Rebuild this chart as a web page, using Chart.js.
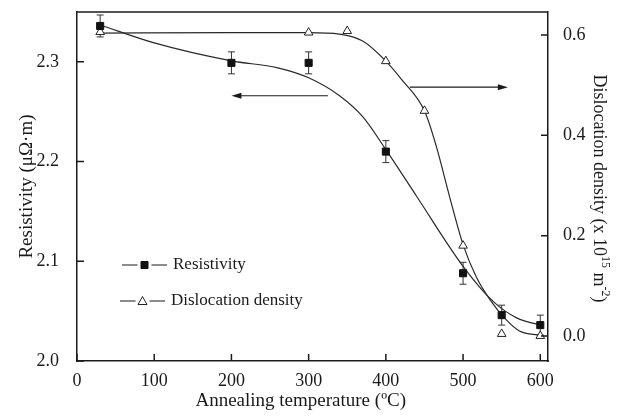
<!DOCTYPE html>
<html>
<head>
<meta charset="utf-8">
<script src="https://cdn.jsdelivr.net/npm/chart.js@4.4.1/dist/chart.umd.min.js"></script>
<style>
  html, body { margin: 0; padding: 0; background: #fff; }
  #wrap { width: 622px; height: 416px; }
</style>
</head>
<body>
<div id="wrap"><canvas id="myChart" width="622" height="416"></canvas></div>
<script>
// measured points
var resTemps = [30, 200, 300, 400, 500, 550, 600];
var resistivity = [2.336, 2.299, 2.299, 2.210, 2.088, 2.046, 2.036];
var resErr = [0.011, 0.011, 0.011, 0.011, 0.011, 0.010, 0.010];

var disTemps = [30, 300, 350, 400, 450, 500, 550, 600];
var dislocation = [0.606, 0.605, 0.608, 0.548, 0.449, 0.180, 0.004, 0.000];

// fitted curves
var resCurveX = [30, 100, 200, 260, 300, 340, 370, 400, 440, 500, 540, 570, 600];
var resCurveY = [2.337, 2.319, 2.301, 2.294, 2.284, 2.266, 2.245, 2.212, 2.165, 2.095, 2.059, 2.043, 2.036];
var disCurveX = [30, 200, 300, 340, 370, 400, 420, 450, 465, 483, 500, 517, 535, 556, 573, 600];
var disCurveY = [0.604, 0.605, 0.605, 0.602, 0.588, 0.548, 0.512, 0.449, 0.380, 0.275, 0.182, 0.118, 0.072, 0.032, 0.010, 0.001];

var xTicks = [0, 100, 200, 300, 400, 500, 600];
var leftTicks = [2.0, 2.1, 2.2, 2.3];
var rightTicks = [0.0, 0.2, 0.4, 0.6];

var FONT = "'Liberation Serif', 'Times New Roman', serif";
var INK = '#1a1a1a';

function pts(xs, ys) {
    return xs.map(function (x, i) { return { x: x, y: ys[i] }; });
}
function setTicks(arr) {
    return function (scale) { scale.ticks = arr.map(function (v) { return { value: v }; }); };
}
function fixWidth(w) {
    return function (s) { s.width = w; s.paddingTop = 0; s.paddingBottom = 0; };
}

var frame = {
    id: 'frame',
    beforeDatasetsDraw: function (chart) {
        var ctx = chart.ctx, xs = chart.scales.x, ys = chart.scales.y;
        // error bars
        ctx.save();
        ctx.strokeStyle = '#333';
        ctx.lineWidth = 1;
        resTemps.forEach(function (t, i) {
            var px = xs.getPixelForValue(t);
            var top = ys.getPixelForValue(resistivity[i] + resErr[i]);
            var bot = ys.getPixelForValue(resistivity[i] - resErr[i]);
            ctx.beginPath();
            ctx.moveTo(px, top); ctx.lineTo(px, bot);
            ctx.moveTo(px - 3.5, top); ctx.lineTo(px + 3.5, top);
            ctx.moveTo(px - 3.5, bot); ctx.lineTo(px + 3.5, bot);
            ctx.stroke();
        });
        ctx.restore();
    },
    afterDraw: function (chart) {
        var ctx = chart.ctx, a = chart.chartArea;
        var xs = chart.scales.x, ys = chart.scales.y, y1 = chart.scales.y1;
        ctx.save();
        ctx.strokeStyle = INK;
        ctx.lineWidth = 1.5;
        // top border
        ctx.beginPath();
        ctx.moveTo(a.left, a.top); ctx.lineTo(a.right, a.top);
        ctx.stroke();
        // inward ticks
        ctx.beginPath();
        xs.ticks.forEach(function (t) {
            var p = xs.getPixelForValue(t.value);
            ctx.moveTo(p, a.bottom); ctx.lineTo(p, a.bottom - 7);
        });
        ys.ticks.forEach(function (t) {
            var p = ys.getPixelForValue(t.value);
            ctx.moveTo(a.left, p); ctx.lineTo(a.left + 7, p);
        });
        y1.ticks.forEach(function (t) {
            var p = y1.getPixelForValue(t.value);
            ctx.moveTo(a.right, p); ctx.lineTo(a.right - 7, p);
        });
        ctx.stroke();

        // arrows
        ctx.lineWidth = 1.2;
        ctx.fillStyle = INK;
        function arrow(x0, x1, py) {
            var dir = x1 > x0 ? 1 : -1;
            ctx.beginPath();
            ctx.moveTo(x0, py); ctx.lineTo(x1 - dir * 8, py);
            ctx.stroke();
            ctx.beginPath();
            ctx.moveTo(x1, py);
            ctx.lineTo(x1 - dir * 10, py - 3);
            ctx.lineTo(x1 - dir * 10, py + 3);
            ctx.closePath();
            ctx.fill();
        }
        arrow(xs.getPixelForValue(325), xs.getPixelForValue(200), ys.getPixelForValue(2.266));
        arrow(xs.getPixelForValue(431), xs.getPixelForValue(558), y1.getPixelForValue(0.496));

        // legend
        var ds = chart.data.datasets;
        ctx.font = '17px ' + FONT;
        ctx.textBaseline = 'middle';
        ctx.textAlign = 'left';
        var rows = [
            { ds: ds[2], y: a.top + 253, x0: 122, x1: 167 },
            { ds: ds[3], y: a.top + 289, x0: 120, x1: 165 }
        ];
        rows.forEach(function (r) {
            var mid = (r.x0 + r.x1) / 2;
            ctx.strokeStyle = INK;
            ctx.lineWidth = 1.2;
            ctx.beginPath();
            ctx.moveTo(r.x0, r.y); ctx.lineTo(mid - 7, r.y);
            ctx.moveTo(mid + 7, r.y); ctx.lineTo(r.x1, r.y);
            ctx.stroke();
            ctx.fillStyle = r.ds.backgroundColor;
            ctx.strokeStyle = r.ds.borderColor;
            ctx.lineWidth = r.ds.borderWidth;
            ctx.beginPath();
            if (r.ds.pointStyle === 'rect') {
                ctx.rect(mid - 3.5, r.y - 3.5, 7, 7);
            } else {
                ctx.moveTo(mid, r.y - 4.5);
                ctx.lineTo(mid + 4.5, r.y + 3.5);
                ctx.lineTo(mid - 4.5, r.y + 3.5);
                ctx.closePath();
            }
            ctx.fill(); ctx.stroke();
            ctx.fillStyle = INK;
            ctx.fillText(r.ds.label, r.x1 + 6, r.y);
        });

        // x axis title
        ctx.font = '19px ' + FONT;
        ctx.textAlign = 'center';
        ctx.fillStyle = INK;
        ctx.fillText('Annealing temperature (ºC)', a.left + (a.right - a.left) * 0.475, 401);

        // right axis title with superscripts
        ctx.translate(600, (a.top + a.bottom) / 2 + 2);
        ctx.rotate(Math.PI / 2);
        var parts = [
            ['Dislocation density (x 10', 18, 0],
            ['15', 12, -8],
            [' m', 18, 0],
            ['-2', 12, -8],
            [')', 18, 0]
        ];
        ctx.textAlign = 'left';
        ctx.textBaseline = 'alphabetic';
        var total = 0;
        parts.forEach(function (p) { ctx.font = p[1] + 'px ' + FONT; total += ctx.measureText(p[0]).width; });
        var cx = -total / 2;
        parts.forEach(function (p) {
            ctx.font = p[1] + 'px ' + FONT;
            ctx.fillText(p[0], cx, 6 + p[2]);
            cx += ctx.measureText(p[0]).width;
        });
        ctx.restore();
    }
};

function createChart() {
    var ctx = document.getElementById('myChart').getContext('2d');
    return new Chart(ctx, {
        type: 'scatter',
        data: {
            datasets: [
                {
                    label: 'Resistivity fit', data: pts(resCurveX, resCurveY), yAxisID: 'y',
                    showLine: true, cubicInterpolationMode: 'monotone', pointRadius: 0,
                    borderColor: '#2a2a2a', borderWidth: 1.2, order: 3
                },
                {
                    label: 'Dislocation fit', data: pts(disCurveX, disCurveY), yAxisID: 'y1',
                    showLine: true, cubicInterpolationMode: 'monotone', pointRadius: 0,
                    borderColor: '#2a2a2a', borderWidth: 1.2, order: 3
                },
                {
                    label: 'Resistivity', data: pts(resTemps, resistivity), yAxisID: 'y',
                    pointStyle: 'rect', pointRadius: 5, backgroundColor: '#111', borderColor: '#111',
                    borderWidth: 1, order: 1
                },
                {
                    label: 'Dislocation density', data: pts(disTemps, dislocation), yAxisID: 'y1',
                    pointStyle: 'triangle', pointRadius: 5, backgroundColor: '#fff', borderColor: '#222',
                    borderWidth: 1, order: 2
                }
            ]
        },
        options: {
            responsive: false,
            animation: false,
            layout: { padding: { top: 12, left: 0, right: 0, bottom: 0 }, autoPadding: false },
            plugins: { legend: { display: false }, tooltip: { enabled: false } },
            scales: {
                x: {
                    type: 'linear', min: 0, max: 610,
                    afterBuildTicks: setTicks(xTicks),
                    afterFit: function (s) { s.height = 55; s.paddingLeft = 0; s.paddingRight = 0; },
                    grid: { display: false },
                    border: { display: true, color: INK, width: 1.5 },
                    ticks: { color: INK, padding: 1, font: { family: FONT, size: 18 } }
                },
                y: {
                    type: 'linear', position: 'left', min: 2.0, max: 2.35,
                    afterBuildTicks: setTicks(leftTicks),
                    afterFit: fixWidth(77),
                    grid: { display: false },
                    border: { display: true, color: INK, width: 1.5 },
                    ticks: {
                        color: INK, padding: 10, font: { family: FONT, size: 18 },
                        callback: function (v) { return v.toFixed(1); }
                    },
                    title: {
                        display: true, text: 'Resistivity (μΩ·m)', color: INK,
                        font: { family: FONT, size: 19 }, padding: { top: 16, bottom: 0 }
                    }
                },
                y1: {
                    type: 'linear', position: 'right', min: -0.05, max: 0.646,
                    afterBuildTicks: setTicks(rightTicks),
                    afterFit: fixWidth(74),
                    grid: { display: false },
                    border: { display: true, color: INK, width: 1.5 },
                    ticks: {
                        color: INK, padding: 7, font: { family: FONT, size: 18 },
                        callback: function (v) { return v.toFixed(1); }
                    }
                }
            }
        },
        plugins: [frame]
    });
}

document.addEventListener("DOMContentLoaded", function () {
    createChart();
});
</script>
</body>
</html>
